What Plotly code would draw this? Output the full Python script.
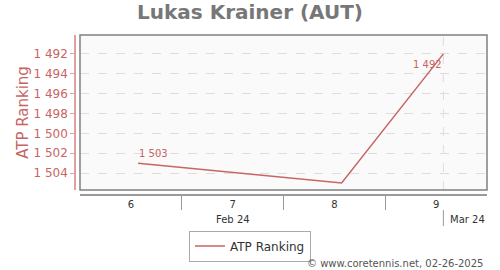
import plotly.graph_objects as go

# ---- data ----
dates = ["2024-02-09", "2024-02-23", "2024-03-01"]
ranks = [1503, 1505, 1492]
labelled = [True, False, True]

week_centers = ["2024-02-08 12:00", "2024-02-15 12:00", "2024-02-22 12:00", "2024-02-29 12:00"]
week_labels = ["6", "7", "8", "9"]
week_bounds = ["2024-02-12", "2024-02-19", "2024-02-26"]
x_range = ["2024-02-05", "2024-03-04"]

month_label_pos = ["2024-02-15 12:00", "2024-03-01 08:00"]
month_labels = ["Feb 24", "Mar 24"]
month_bounds = ["2024-03-01"]

y_ticks = [1492, 1494, 1496, 1498, 1500, 1502, 1504]
y_range = [1505.7, 1490.1]

RED = "#c96464"
FONT = "DejaVu Sans"


def fmt(v):
    return f"{v:,}".replace(",", " ")


fig = go.Figure()
fig.add_trace(go.Scatter(
    x=dates, y=ranks, mode="lines", name="ATP Ranking",
    line=dict(color=RED, width=1.5),
))

# data labels
label_idx = [i for i, s in enumerate(labelled) if s]
for k, i in enumerate(label_idx):
    last = (i == len(ranks) - 1)
    fig.add_annotation(
        x=dates[i], y=ranks[i], xref="x", yref="y", text=fmt(ranks[i]), showarrow=False,
        xanchor="right" if last else "left", yanchor="top" if last else "bottom",
        yshift=-3 if last else 2, xshift=1 if last else -1,
        font=dict(family=FONT, size=10, color=RED),
    )

# plot frame
fig.add_shape(type="rect", xref="x domain", yref="y domain", x0=0, x1=1, y0=0, y1=1,
              line=dict(color="#808080", width=1.5), layer="above")
# month boundary gridline + separator below
for mb in month_bounds:
    fig.add_shape(type="line", xref="x", yref="y domain", x0=mb, x1=mb, y0=0, y1=1,
                  line=dict(color="#dddddd", width=1, dash="dash"), layer="below")
    fig.add_shape(type="line", xref="x", yref="paper", x0=mb, x1=mb, y0=-0.094, y1=-0.194,
                  line=dict(color="#999999", width=1))

fig.add_annotation(x=month_label_pos[0], y=-0.156, xref="x", yref="paper", text=month_labels[0],
                   showarrow=False, xanchor="center", yanchor="middle",
                   font=dict(family=FONT, size=10, color="#333333"))
fig.add_annotation(x=month_label_pos[1], y=-0.156, xref="x", yref="paper", text=month_labels[1],
                   showarrow=False, xanchor="left", yanchor="middle",
                   font=dict(family=FONT, size=10, color="#333333"))

fig.add_annotation(x=0.995, y=-0.431, xref="paper", yref="paper",
                   text="© www.coretennis.net, 02-26-2025", showarrow=False,
                   xanchor="right", yanchor="middle",
                   font=dict(family=FONT, size=10, color="#555555"))

fig.update_layout(
    width=500, height=270,
    margin=dict(l=75, r=13, t=35, b=75),
    paper_bgcolor="white", plot_bgcolor="#fafafa",
    title=dict(text="<b>Lukas Krainer (AUT)</b>", x=0.5, xref="container", xanchor="center",
               y=1 - 12 / 270, yref="container", yanchor="middle",
               font=dict(family=FONT, size=20, color="#777777")),
    showlegend=True,
    legend=dict(orientation="h", xref="container", yref="container", x=0.5, xanchor="center",
                y=24 / 270, yanchor="middle", bordercolor="#aaaaaa", borderwidth=1,
                font=dict(family=FONT, size=12, color="#333333"), bgcolor="white"),
    xaxis=dict(
        type="date", range=x_range, domain=[5 / 412, 1],
        anchor="free", position=0,
        showline=True, linecolor="#999999", linewidth=1.5,
        showgrid=False, zeroline=False,
        tickmode="array", tickvals=week_centers, ticktext=week_labels,
        ticks="", tickfont=dict(family=FONT, size=10, color="#333333"),
        minor=dict(tickmode="array", tickvals=week_bounds, ticks="outside", ticklen=14,
                   tickcolor="#999999", showgrid=False),
    ),
    yaxis=dict(
        autorange=False, range=y_range, domain=[5 / 160, 1],
        anchor="free", position=0,
        showline=True, linecolor="#e0a0a0", linewidth=1.5,
        tickmode="array", tickvals=y_ticks, ticktext=[fmt(v) for v in y_ticks],
        ticks="outside", ticklen=4, tickcolor="#e0a0a0",
        tickfont=dict(family=FONT, size=12, color=RED),
        showgrid=True, gridcolor="#dddddd", griddash="dash", gridwidth=1,
        zeroline=False,
        title=dict(text="ATP Ranking", font=dict(family=FONT, size=15, color=RED), standoff=0),
    ),
)

fig.write_html("out.html")
